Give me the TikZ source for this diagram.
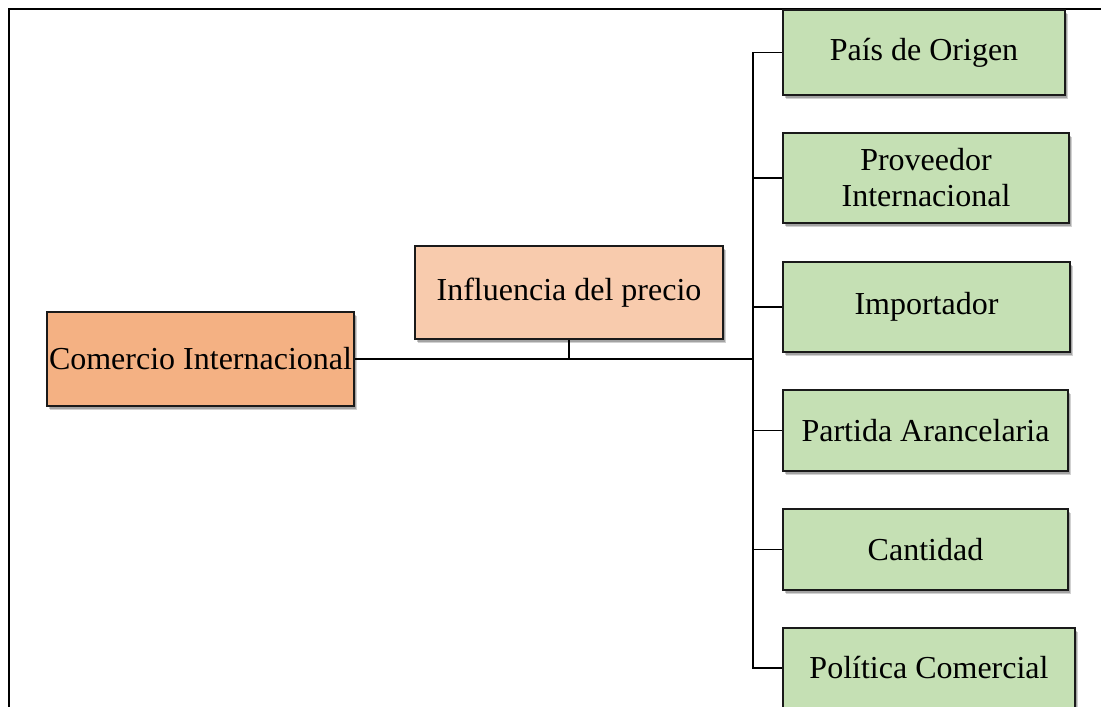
\documentclass[tikz,border=0pt]{standalone}
\usepackage{fontspec}
\setmainfont{Liberation Serif}
\usetikzlibrary{shadows}
\definecolor{orgdark}{HTML}{F4B183}
\definecolor{orglight}{HTML}{F8CBAD}
\definecolor{grn}{HTML}{C5E0B4}
\definecolor{edge}{HTML}{1A1A1A}
\begin{document}
\begin{tikzpicture}[x=1pt,y=-1pt,
  box/.style={draw=edge, line width=1.8pt, rectangle, inner sep=0pt, align=center,
    font=\fontsize{32}{36}\selectfont,
    drop shadow={shadow xshift=3pt, shadow yshift=-4pt, opacity=0.18, fill=black},
    drop shadow={shadow xshift=2pt, shadow yshift=-2.5pt, opacity=0.22, fill=black}},
  conn/.style={draw=black, line width=1.7pt},
  mainconn/.style={draw=black, line width=2.8pt}]
\useasboundingbox (0,0) rectangle (1101,707);
\clip (0,0) rectangle (1101,707);
\fill[white] (0,0) rectangle (1101,707);
\draw[line width=2.4pt] (9,720) -- (9,9) -- (1110,9);
\node[box, fill=orgdark, minimum width=307pt, minimum height=94pt] (com) at (200.5,359) {Comercio Internacional};
\node[box, fill=orglight, minimum width=308pt, minimum height=93pt] (inf) at (569,292.5) {Influencia del precio};
\node[box, fill=grn, minimum width=282pt, minimum height=85pt] (pais) at (924,52.5) {País de Origen};
\node[box, fill=grn, minimum width=286pt, minimum height=90pt] (prov) at (926,178) {Proveedor\\Internacional};
\node[box, fill=grn, minimum width=287pt, minimum height=90pt] (imp) at (926.5,307) {Importador};
\node[box, fill=grn, minimum width=285pt, minimum height=81pt] (part) at (925.5,430.5) {Partida Arancelaria};
\node[box, fill=grn, minimum width=285pt, minimum height=81pt] (cant) at (925.5,549.5) {Cantidad};
\node[box, fill=grn, minimum width=292pt, minimum height=80pt] (pol) at (929,668) {Política Comercial};
\coordinate (bus) at (753,359);
\draw[conn] (pais.west) -- (pais.west -| bus) -- (pol.west -| bus) -- (pol.west);
\foreach \n in {prov,imp,part,cant}{\draw[conn] (\n.west) -- (\n.west -| bus);}
\draw[mainconn] (com.east) -- (bus);
\draw[conn] (inf.south) -- (inf.south |- com.east);
\end{tikzpicture}
\end{document}
